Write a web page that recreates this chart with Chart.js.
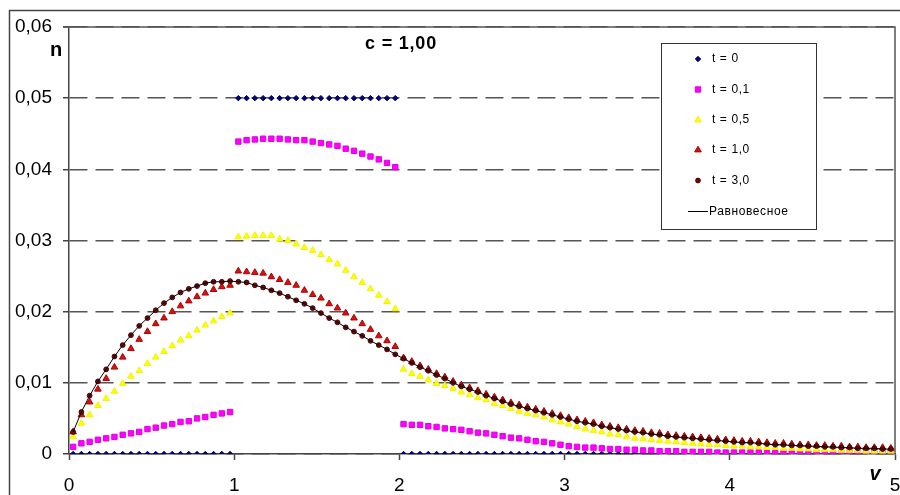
<!DOCTYPE html>
<html lang="ru">
<head>
    <meta charset="UTF-8">
    <title>c = 1,00</title>
    <script src="https://cdn.jsdelivr.net/npm/chart.js"></script>
    <style>
        html, body {
            margin: 0;
            padding: 0;
            background: #fff;
        }
        .chart-box {
            position: relative;
            width: 900px;
            height: 495px;
        }
    </style>
</head>
<body>
    <div class="chart-box">
        <canvas id="distChart"></canvas>
    </div>

    <script>
        // speed grid (bin centres)
        const vVals = [
            0.025, 0.075, 0.125, 0.175, 0.225, 0.275, 0.325, 0.375, 0.425, 0.475, 0.525, 0.575, 0.625, 0.675, 0.725, 0.775, 0.825, 0.875, 0.925, 0.975,
            1.025, 1.075, 1.125, 1.175, 1.225, 1.275, 1.325, 1.375, 1.425, 1.475, 1.525, 1.575, 1.625, 1.675, 1.725, 1.775, 1.825, 1.875, 1.925, 1.975,
            2.025, 2.075, 2.125, 2.175, 2.225, 2.275, 2.325, 2.375, 2.425, 2.475, 2.525, 2.575, 2.625, 2.675, 2.725, 2.775, 2.825, 2.875, 2.925, 2.975,
            3.025, 3.075, 3.125, 3.175, 3.225, 3.275, 3.325, 3.375, 3.425, 3.475, 3.525, 3.575, 3.625, 3.675, 3.725, 3.775, 3.825, 3.875, 3.925, 3.975,
            4.025, 4.075, 4.125, 4.175, 4.225, 4.275, 4.325, 4.375, 4.425, 4.475, 4.525, 4.575, 4.625, 4.675, 4.725, 4.775, 4.825, 4.875, 4.925, 4.975
        ];

        const nT0 = [
            0, 0, 0, 0, 0, 0, 0, 0, 0, 0, 0, 0, 0, 0, 0, 0, 0, 0, 0, 0,
            0.05, 0.05, 0.05, 0.05, 0.05, 0.05, 0.05, 0.05, 0.05, 0.05, 0.05, 0.05, 0.05, 0.05, 0.05, 0.05, 0.05, 0.05, 0.05, 0.05,
            0, 0, 0, 0, 0, 0, 0, 0, 0, 0, 0, 0, 0, 0, 0, 0, 0, 0, 0, 0,
            0, 0, 0, 0, 0, 0, 0, 0, 0, 0, 0, 0, 0, 0, 0, 0, 0, 0, 0, 0,
            0, 0, 0, 0, 0, 0, 0, 0, 0, 0, 0, 0, 0, 0, 0, 0, 0, 0, 0, 0
        ];

        const nT01 = [
            0.0010, 0.0015, 0.0017, 0.0020, 0.0022, 0.0024, 0.0027, 0.0029, 0.0031, 0.0035, 0.0037, 0.0040, 0.0042, 0.0045, 0.0046, 0.0050, 0.0052, 0.0055, 0.0057, 0.0059,
            0.0439, 0.0441, 0.0442, 0.0443, 0.0443, 0.0443, 0.0442, 0.0441, 0.0441, 0.0439, 0.0437, 0.0435, 0.0433, 0.0429, 0.0426, 0.0422, 0.0418, 0.0414, 0.0409, 0.0403,
            0.0042, 0.0041, 0.0041, 0.0039, 0.0038, 0.0036, 0.0035, 0.0034, 0.0032, 0.0030, 0.0029, 0.0027, 0.0025, 0.0023, 0.0022, 0.0020, 0.0018, 0.0017, 0.0015, 0.0013,
            0.0011, 0.0010, 0.0009, 0.0009, 0.0008, 0.0007, 0.0007, 0.0006, 0.0006, 0.0005, 0.0005, 0.0004, 0.0004, 0.0004, 0.0003, 0.0003, 0.0003, 0.0003, 0.0002, 0.0002,
            0.0002, 0.0002, 0.0002, 0.0002, 0.0001, 0.0001, 0.0001, 0.0001, 0.0001, 0.0001, 0.0001, 0.0001, 0.0001, 0.0001, 0.0001, 0.0001, 0.0001, 0.0001, 0.0001, 0.0001
        ];

        const nT05 = [
            0.0024, 0.0043, 0.0055, 0.0068, 0.0078, 0.0088, 0.0099, 0.0109, 0.0117, 0.0127, 0.0136, 0.0144, 0.0152, 0.0160, 0.0166, 0.0174, 0.0181, 0.0187, 0.0193, 0.0198,
            0.0305, 0.0306, 0.0307, 0.0307, 0.0307, 0.0302, 0.0300, 0.0295, 0.0290, 0.0286, 0.0280, 0.0273, 0.0267, 0.0258, 0.0249, 0.0241, 0.0232, 0.0223, 0.0214, 0.0204,
            0.0119, 0.0113, 0.0109, 0.0104, 0.0099, 0.0096, 0.0092, 0.0087, 0.0083, 0.0079, 0.0076, 0.0071, 0.0068, 0.0064, 0.0060, 0.0057, 0.0055, 0.0052, 0.0048, 0.0045,
            0.0042, 0.0038, 0.0035, 0.0033, 0.0031, 0.0028, 0.0027, 0.0024, 0.0022, 0.0021, 0.0020, 0.0019, 0.0018, 0.0017, 0.0016, 0.0015, 0.0014, 0.0013, 0.0013, 0.0012,
            0.0011, 0.0011, 0.0010, 0.0010, 0.0009, 0.0009, 0.0008, 0.0008, 0.0007, 0.0007, 0.0006, 0.0006, 0.0006, 0.0005, 0.0005, 0.0005, 0.0004, 0.0004, 0.0004, 0.0004
        ];

        const nT10 = [
            0.0031, 0.0055, 0.0073, 0.0091, 0.0106, 0.0122, 0.0136, 0.0148, 0.0161, 0.0172, 0.0183, 0.0191, 0.0200, 0.0208, 0.0215, 0.0221, 0.0226, 0.0231, 0.0235, 0.0237,
            0.0257, 0.0256, 0.0255, 0.0254, 0.0249, 0.0245, 0.0241, 0.0237, 0.0230, 0.0224, 0.0219, 0.0211, 0.0205, 0.0198, 0.0191, 0.0183, 0.0175, 0.0166, 0.0159, 0.0151,
            0.0135, 0.0130, 0.0124, 0.0119, 0.0113, 0.0108, 0.0102, 0.0097, 0.0093, 0.0089, 0.0084, 0.0080, 0.0076, 0.0072, 0.0069, 0.0066, 0.0063, 0.0060, 0.0057, 0.0054,
            0.0051, 0.0048, 0.0046, 0.0044, 0.0041, 0.0039, 0.0037, 0.0035, 0.0033, 0.0032, 0.0030, 0.0029, 0.0027, 0.0026, 0.0025, 0.0024, 0.0023, 0.0022, 0.0021, 0.0020,
            0.0019, 0.0018, 0.0018, 0.0017, 0.0016, 0.0015, 0.0015, 0.0014, 0.0013, 0.0013, 0.0012, 0.0012, 0.0011, 0.0011, 0.0010, 0.0010, 0.0009, 0.0009, 0.0009, 0.0008
        ];

        const nT30 = [
            0.0031, 0.0059, 0.0082, 0.0102, 0.0119, 0.0137, 0.0153, 0.0167, 0.0180, 0.0191, 0.0202, 0.0212, 0.0220, 0.0227, 0.0232, 0.0236, 0.0240, 0.0242, 0.0242, 0.0243,
            0.0242, 0.0241, 0.0237, 0.0234, 0.0230, 0.0226, 0.0221, 0.0216, 0.0211, 0.0205, 0.0198, 0.0191, 0.0185, 0.0178, 0.0172, 0.0166, 0.0159, 0.0153, 0.0147, 0.0140,
            0.0134, 0.0128, 0.0122, 0.0117, 0.0111, 0.0106, 0.0100, 0.0095, 0.0091, 0.0087, 0.0082, 0.0078, 0.0074, 0.0070, 0.0067, 0.0064, 0.0061, 0.0058, 0.0055, 0.0052,
            0.0049, 0.0046, 0.0044, 0.0042, 0.0039, 0.0037, 0.0035, 0.0033, 0.0031, 0.0030, 0.0028, 0.0027, 0.0025, 0.0024, 0.0023, 0.0022, 0.0021, 0.0020, 0.0019, 0.0018,
            0.0017, 0.0016, 0.0016, 0.0015, 0.0014, 0.0013, 0.0013, 0.0012, 0.0012, 0.0011, 0.0011, 0.0010, 0.0010, 0.0009, 0.0009, 0.0008, 0.0008, 0.0008, 0.0007, 0.0007
        ];

        // equilibrium curve, the t = 3,0 points sit on it
        const nEq = [
            0.0031, 0.0059, 0.0082, 0.0102, 0.0119, 0.0137, 0.0153, 0.0167, 0.0180, 0.0191, 0.0202, 0.0212, 0.0220, 0.0227, 0.0232, 0.0236, 0.0240, 0.0242, 0.0242, 0.0243,
            0.0242, 0.0241, 0.0237, 0.0234, 0.0230, 0.0226, 0.0221, 0.0216, 0.0211, 0.0205, 0.0198, 0.0191, 0.0185, 0.0178, 0.0172, 0.0166, 0.0159, 0.0153, 0.0147, 0.0140,
            0.0134, 0.0128, 0.0122, 0.0117, 0.0111, 0.0106, 0.0100, 0.0095, 0.0091, 0.0087, 0.0082, 0.0078, 0.0074, 0.0070, 0.0067, 0.0064, 0.0061, 0.0058, 0.0055, 0.0052,
            0.0049, 0.0046, 0.0044, 0.0042, 0.0039, 0.0037, 0.0035, 0.0033, 0.0031, 0.0030, 0.0028, 0.0027, 0.0025, 0.0024, 0.0023, 0.0022, 0.0021, 0.0020, 0.0019, 0.0018,
            0.0017, 0.0016, 0.0016, 0.0015, 0.0014, 0.0013, 0.0013, 0.0012, 0.0012, 0.0011, 0.0011, 0.0010, 0.0010, 0.0009, 0.0009, 0.0008, 0.0008, 0.0008, 0.0007, 0.0007
        ];

        const seriesNames = ['t = 0', 't = 0,1', 't = 0,5', 't = 1,0', 't = 3,0', 'Равновесное'];
        const xTicks = [0, 1, 2, 3, 4, 5];
        const yTicks = [0, 0.01, 0.02, 0.03, 0.04, 0.05, 0.06];

        const FONT = "'Liberation Sans', Arial, sans-serif";

        function toPoints(ys) {
            return vVals.map((v, i) => ({ x: v, y: ys[i] }));
        }

        function drawMarker(ctx, shape, x, y, r, fill, stroke) {
            ctx.save();
            ctx.fillStyle = fill;
            ctx.strokeStyle = stroke;
            ctx.lineWidth = 1;
            ctx.beginPath();
            if (shape === 'rectRot') {
                ctx.moveTo(x, y - r);
                ctx.lineTo(x + r, y);
                ctx.lineTo(x, y + r);
                ctx.lineTo(x - r, y);
                ctx.closePath();
            } else if (shape === 'rect') {
                const s = r * Math.SQRT1_2;
                ctx.rect(x - s, y - s, 2 * s, 2 * s);
            } else if (shape === 'triangle') {
                ctx.moveTo(x, y - r);
                ctx.lineTo(x + r * 0.866, y + r * 0.5);
                ctx.lineTo(x - r * 0.866, y + r * 0.5);
                ctx.closePath();
            } else {
                ctx.arc(x, y, r, 0, Math.PI * 2);
            }
            ctx.fill();
            ctx.stroke();
            ctx.restore();
        }

        const overlay = {
            id: 'overlay',
            beforeDraw(chart) {
                const ctx = chart.ctx;
                ctx.save();
                ctx.fillStyle = '#fff';
                ctx.fillRect(0, 0, chart.width, chart.height);
                // outer chart frame (only left and top fall inside the picture)
                ctx.strokeStyle = '#444';
                ctx.lineWidth = 1.5;
                ctx.beginPath();
                ctx.moveTo(9.5, chart.height + 2);
                ctx.lineTo(9.5, 10.5);
                ctx.lineTo(chart.width + 2, 10.5);
                ctx.stroke();
                ctx.restore();
            },
            beforeDatasetsDraw(chart) {
                const { ctx, chartArea } = chart;
                ctx.save();
                ctx.strokeStyle = '#555';
                ctx.lineWidth = 1.5;
                ctx.beginPath();
                ctx.moveTo(chartArea.left - 6, chartArea.top);
                ctx.lineTo(chartArea.right, chartArea.top);
                ctx.lineTo(chartArea.right, chartArea.bottom);
                ctx.stroke();
                ctx.restore();
            },
            afterDraw(chart) {
                const ctx = chart.ctx;
                ctx.save();
                ctx.fillStyle = '#000';
                ctx.textAlign = 'center';
                ctx.textBaseline = 'middle';
                ctx.font = 'bold 20px ' + FONT;
                ctx.fillText('n', 56, 50);
                ctx.font = 'bold 18px ' + FONT;
                ctx.letterSpacing = '0.8px';
                ctx.fillText('c = 1,00', 401, 44);
                ctx.letterSpacing = '0px';
                ctx.font = 'italic bold 20px ' + FONT;
                ctx.fillText('v', 875, 474);

                // legend box
                const lx = 661, ly = 43, lw = 155, lh = 186;
                ctx.fillStyle = '#fff';
                ctx.fillRect(lx, ly, lw, lh);
                ctx.strokeStyle = '#333';
                ctx.lineWidth = 1;
                ctx.strokeRect(lx + 0.5, ly + 0.5, lw, lh);

                const rows = [59, 89.5, 120, 150, 180.5, 211.5];
                ctx.font = '12px ' + FONT;
                ctx.textAlign = 'left';
                ctx.letterSpacing = '0.6px';
                chart.data.datasets.forEach((ds, i) => {
                    const y = rows[i];
                    if (ds.showLine) {
                        ctx.strokeStyle = ds.borderColor;
                        ctx.lineWidth = 1;
                        ctx.beginPath();
                        ctx.moveTo(688, y);
                        ctx.lineTo(708, y);
                        ctx.stroke();
                        ctx.fillStyle = '#000';
                        ctx.fillText(ds.label, 709, y);
                    } else {
                        drawMarker(ctx, ds.pointStyle, 698, y, ds.pointRadius, ds.backgroundColor, ds.borderColor);
                        ctx.fillStyle = '#000';
                        ctx.fillText(ds.label, 712, y);
                    }
                });
                ctx.restore();
            }
        };

        const ctx = document.getElementById('distChart').getContext('2d');
        const distChart = new Chart(ctx, {
            type: 'scatter',
            data: {
                datasets: [{
                    label: seriesNames[0],
                    data: toPoints(nT0),
                    pointStyle: 'rectRot',
                    pointRadius: 2.7,
                    backgroundColor: '#000080',
                    borderColor: '#000050',
                    borderWidth: 1,
                    order: 6
                }, {
                    label: seriesNames[1],
                    data: toPoints(nT01),
                    pointStyle: 'rect',
                    pointRadius: 3.8,
                    backgroundColor: '#ff00ff',
                    borderColor: '#e000e0',
                    borderWidth: 1,
                    order: 5
                }, {
                    label: seriesNames[2],
                    data: toPoints(nT05),
                    pointStyle: 'triangle',
                    pointRadius: 3.8,
                    backgroundColor: '#ffff00',
                    borderColor: '#f2f200',
                    borderWidth: 1,
                    order: 4
                }, {
                    label: seriesNames[3],
                    data: toPoints(nT10),
                    pointStyle: 'triangle',
                    pointRadius: 3.8,
                    backgroundColor: '#d41414',
                    borderColor: '#b00000',
                    borderWidth: 1,
                    order: 3
                }, {
                    label: seriesNames[4],
                    data: toPoints(nT30),
                    pointStyle: 'circle',
                    pointRadius: 2.4,
                    backgroundColor: '#6e0c0c',
                    borderColor: '#4a0000',
                    borderWidth: 1,
                    order: 2
                }, {
                    label: seriesNames[5],
                    data: toPoints(nEq),
                    showLine: true,
                    borderColor: '#000',
                    borderWidth: 1,
                    pointRadius: 0,
                    tension: 0,
                    order: 1
                }]
            },
            options: {
                responsive: true,
                maintainAspectRatio: false,
                animation: false,
                layout: {
                    padding: { top: 27, left: 0, right: 2, bottom: 0 }
                },
                plugins: {
                    legend: { display: false },
                    tooltip: { enabled: false },
                    title: { display: false }
                },
                scales: {
                    x: {
                        type: 'linear',
                        min: 0,
                        max: 5,
                        afterBuildTicks: (scale) => {
                            scale.ticks = xTicks.map(v => ({ value: v }));
                        },
                        afterFit: (scale) => {
                            scale.height = 41;
                            scale.paddingLeft = 0;
                            scale.paddingRight = 0;
                        },
                        grid: {
                            drawOnChartArea: false,
                            drawTicks: true,
                            tickLength: 6,
                            tickColor: '#444',
                            tickWidth: 1.5
                        },
                        border: {
                            display: true,
                            color: '#444',
                            width: 1.5
                        },
                        ticks: {
                            autoSkip: false,
                            maxRotation: 0,
                            padding: 14,
                            color: '#000',
                            font: { family: FONT, size: 19 },
                            callback: (v) => String(v)
                        }
                    },
                    y: {
                        type: 'linear',
                        min: 0,
                        max: 0.06,
                        afterBuildTicks: (scale) => {
                            scale.ticks = yTicks.map(v => ({ value: v }));
                        },
                        afterFit: (scale) => {
                            scale.width = 69;
                            scale.paddingTop = 0;
                            scale.paddingBottom = 0;
                        },
                        grid: {
                            color: '#555',
                            lineWidth: 1.5,
                            drawTicks: true,
                            tickLength: 6,
                            tickColor: '#444',
                            tickWidth: 1.5
                        },
                        border: {
                            display: true,
                            color: '#444',
                            width: 1.5,
                            dash: [18, 8]
                        },
                        ticks: {
                            padding: 11,
                            color: '#000',
                            font: { family: FONT, size: 19 },
                            callback: (v) => {
                                const r = Math.round(v * 100) / 100;
                                return r === 0 ? '0' : r.toFixed(2).replace('.', ',');
                            }
                        }
                    }
                }
            },
            plugins: [overlay]
        });
    </script>
</body>
</html>
